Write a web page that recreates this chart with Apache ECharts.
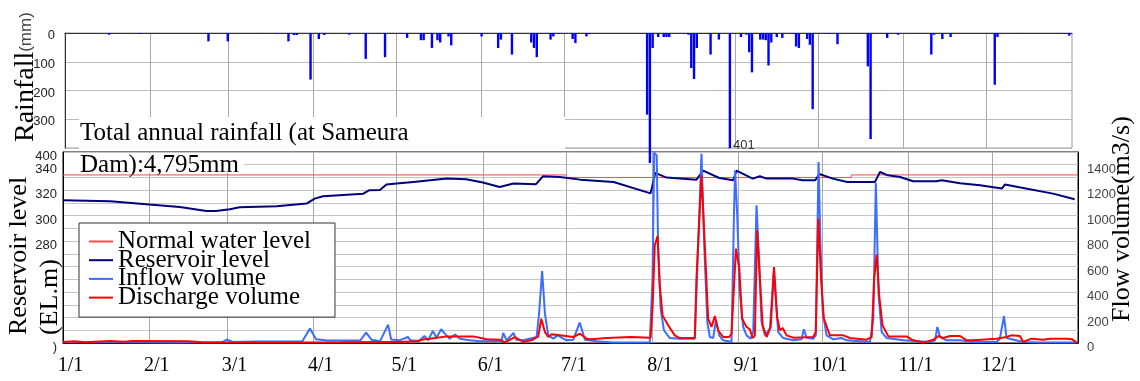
<!DOCTYPE html>
<html>
<head>
<meta charset="utf-8">
<script src="https://cdn.jsdelivr.net/npm/echarts@6/dist/echarts.min.js"></script>
<style>
  html, body { margin: 0; padding: 0; background: #fff; }
  #chart { width: 1140px; height: 381px; }
</style>
</head>
<body>
<div id="chart"></div>
<script>
// Day index (0 = Jan 1) of each month start, and the tick labels shown for them
const monthStarts = [0, 31, 59, 90, 120, 151, 181, 212, 243, 273, 304, 334];
const monthLabels = ['1/1', '2/1', '3/1', '4/1', '5/1', '6/1', '7/1', '8/1', '9/1', '10/1', '11/1', '12/1'];

// Daily rainfall at the dam (mm)
const rainDays = [16, 27, 32, 52, 59, 71, 77, 81, 83, 84, 89, 92, 94, 103, 109, 116, 122, 124, 129, 130,
  133, 135, 136, 139, 140, 151, 157, 158, 162, 169, 170, 171, 176, 177, 179, 184, 185, 189, 190, 211,
  212, 213, 215, 217, 218, 219, 226, 227, 228, 229, 233, 234, 237, 241, 245, 247, 248, 249, 252, 253,
  254, 255, 256, 258, 260, 264, 265, 266, 269, 270, 271, 277, 280, 291, 292, 298, 302, 314, 315, 318,
  321, 337, 338, 345, 362, 364];
const rainMm = [6, 3, 1, 29, 29, 1, 3, 29, 7, 7, 162, 21, 7, 6, 90, 84, 3, 17, 25, 25,
  52, 25, 33, 12, 43, 12, 52, 23, 75, 33, 52, 84, 23, 12, 2, 21, 35, 12, 4, 284,
  452, 52, 14, 14, 14, 14, 6, 122, 160, 52, 3, 75, 23, 401, 14, 6, 67, 137, 23, 23,
  25, 113, 33, 14, 17, 3, 47, 52, 21, 41, 265, 3, 39, 116, 369, 17, 6, 75, 6, 21,
  14, 180, 14, 1, 3, 9];
const rainLabelDay = 241;

// Normal water level (EL.m), lowered during the flood season
const normalDays = [0, 181, 181, 283.5, 283.5, 365];
const normalLevel = [332, 332, 330, 330, 332, 332];

// Reservoir level (EL.m)
const levelDays = [0, 17, 31, 42, 51.6, 55, 60, 63.5, 76.8, 87.6, 90.5, 93.5, 108, 110, 114, 116.3, 120, 126,
  138, 145, 151, 157, 162, 170, 172.6, 178.6, 186, 198, 211.3, 213, 217, 227.8, 230.2, 236, 241, 242.2,
  248, 250.6, 253, 262.5, 266, 270.5, 272, 276.8, 282, 292, 293.8, 296.6, 301, 305.7, 314, 316, 322.6,
  329.8, 337.6, 338.7, 345.3, 356, 363.8];
const levelValues = [312.1, 311.3, 308.7, 306.8, 303.7, 303.7, 305, 306.6, 307.4, 309.5, 313.4, 315.2, 317.3, 319.9, 320.2, 324.4, 325.2, 326.5,
  329.1, 328.6, 326, 322.5, 325.2, 324.6, 330.9, 330.4, 328.3, 326.5, 317.5, 333.6, 329.9, 328.3, 335.4, 329.6, 327.8, 335.4,
  329.1, 330.9, 329.1, 329.1, 327.8, 327.8, 332.7, 329.1, 326.5, 326.5, 334.3, 331.7, 330.4, 327, 327, 327.8, 325.5,
  323.9, 321.3, 324.4, 321.8, 317.3, 312.9];

// Inflow volume (m3/s)
const inflowDays = [0, 20, 40, 57, 59, 61, 70, 86, 88.8, 91, 95, 105, 107, 109, 111, 114, 116.9, 118, 121, 124,
  125, 128, 130, 131.3, 133, 134.3, 136, 137.3, 139, 141, 142.7, 146.3, 150, 157.7, 158.3, 159.5, 162, 163, 165.5, 170.3,
  171.2, 172.3, 173.3, 174.5, 176.3, 178, 179.3, 181, 183.5, 185.8, 187.7, 191.9, 197.8, 211, 212, 212.6, 213.5, 214, 214.9, 216.1,
  218.2, 221.8, 227.2, 228.4, 229.6, 230.6, 231.7, 232.6, 233.8, 234.8, 236, 237.4, 240.4, 241.3, 241.7, 242.4, 243.4, 244.6, 245.8, 247.3,
  248.2, 249.4, 250.4, 251.2, 252.4, 254.2, 255.6, 257.2, 259, 262.6, 265.6, 266.4, 267.4, 269.8, 270.7, 271.7, 272.4, 273.2, 274.6, 277,
  280, 281.8, 290.2, 291.4, 292.3, 293.3, 294.4, 296.2, 302.2, 311.8, 313.6, 314.4, 315.4, 317.8, 322.6, 327.3, 335.7, 336.9, 338.4, 339.3,
  345.3, 351.3, 364.5];
const inflowValues = [5, 5, 3, 5, 27, 8, 12, 12, 113, 29, 20, 20, 22, 82, 25, 13, 144, 27, 21, 47,
  21, 15, 55, 21, 94, 42, 108, 74, 34, 66, 34, 21, 13, 16, 79, 21, 79, 26, 21, 47,
  231, 565, 231, 60, 34, 60, 42, 21, 26, 160, 26, 13, 4, 3, 506, 1495, 1474, 767, 270, 100,
  39, 34, 34, 767, 1487, 767, 165, 47, 39, 178, 60, 21, 8, 1029, 1356, 1029, 400, 126, 60, 34,
  86, 1081, 610, 165, 60, 113, 560, 86, 39, 21, 29, 108, 42, 34, 60, 1421, 767, 243, 60, 29,
  39, 21, 8, 191, 1259, 375, 86, 39, 21, 8, 21, 126, 47, 21, 21, 8, 8, 34, 212, 39,
  8, 3, 3];

// Discharge volume (m3/s)
const dischargeDays = [0, 4, 8, 17, 22, 25, 45, 50, 88, 100, 114, 121, 127, 130, 132, 138, 147.5, 152.3, 157, 158.9,
  162.5, 165.5, 169, 170.9, 172, 173.3, 174.5, 175.7, 178.7, 183.5, 185.9, 188.3, 190, 195.5, 204, 211.3, 212, 212.8, 213.8, 214.6,
  215.6, 217.6, 220, 221.8, 227.2, 227.8, 229.6, 230.8, 232, 233.2, 234.4, 235.6, 237.4, 239.6, 240.4, 241, 242, 243.2, 244.2, 245.8,
  247, 248, 248.8, 249.6, 250.6, 251.6, 253, 254.5, 255.7, 256.8, 257.8, 258.8, 260.2, 262.6, 269.8, 270.7, 271.6, 272.6, 273.6, 275.8,
  280.6, 283, 289, 290.8, 291.7, 292.6, 293.5, 294.7, 296.8, 303.4, 305.2, 309.4, 313, 314.8, 316.5, 319, 322.6, 325, 327.3, 335.7,
  339.3, 341, 344.1, 345.3, 348.3, 352.5, 354.9, 361, 362.8, 364.5];
const dischargeValues = [8, 14, 6, 15, 10, 15, 14, 5, 3, 5, 8, 8, 13, 29, 34, 52, 52, 29, 26, 5,
  47, 8, 26, 52, 191, 86, 47, 68, 60, 47, 73, 34, 30, 39, 47, 42, 270, 767, 840, 453,
  217, 139, 60, 39, 39, 506, 1317, 767, 191, 126, 212, 100, 47, 47, 73, 60, 741, 584, 191, 126,
  108, 39, 60, 885, 506, 139, 47, 126, 597, 200, 100, 118, 60, 42, 47, 86, 977, 506, 191, 60,
  60, 39, 26, 47, 506, 694, 375, 139, 52, 52, 26, 3, 26, 55, 39, 55, 55, 21, 21, 34,
  47, 60, 55, 8, 34, 26, 34, 34, 30, 3];

const pairs = (xs, ys) => xs.map((x, i) => [x, ys[i]]);

const serif = '"Liberation Serif", "Times New Roman", serif';
const sans = '"Liberation Sans", Arial, sans-serif';

const rainData = rainDays.map((d, i) => {
  const item = { value: [d, rainMm[i]] };
  if (d === rainLabelDay) {
    item.label = {
      show: true,
      position: ['100%', '100%'],
      align: 'left',
      verticalAlign: 'bottom',
      offset: [2, 4],
      formatter: p => String(p.value[1]),
      fontFamily: sans,
      fontSize: 13,
      color: '#333'
    };
  }
  return item;
});

const monthName = v => monthLabels[monthStarts.indexOf(v)] || '';

// Value-axis tick text, nudged a little below its grid line
const tickText = (s, style) => (s ? '{' + style + '|' + s + '}' : '');
const tickRich = {
  t: { fontFamily: sans, fontSize: 13, color: '#222', padding: [5, 0, 0, 0] },
  l: { fontFamily: sans, fontSize: 13, color: '#222', padding: [9, 0, 0, 0] },
  r: { fontFamily: sans, fontSize: 13, color: '#444', padding: [9, 0, 0, 0] }
};

const chart = echarts.init(document.getElementById('chart'));

chart.setOption({
  animation: false,
  backgroundColor: '#fff',
  grid: [
    { left: 65, top: 33, width: 1007, height: 115, show: true, borderColor: '#999', borderWidth: 1, backgroundColor: 'transparent' },
    { left: 63, top: 152, width: 1015, height: 191, show: true, borderColor: '#000', borderWidth: 1, backgroundColor: 'transparent' }
  ],
  xAxis: [
    {
      gridIndex: 0, type: 'value', min: 0, max: 365, position: 'top',
      axisLine: { onZero: false, lineStyle: { color: '#333', width: 1 } },
      axisTick: { show: false, customValues: monthStarts },
      axisLabel: { show: false },
      splitLine: { show: true, lineStyle: { color: '#aaa', width: 1 } }
    },
    {
      gridIndex: 1, type: 'value', min: 0, max: 365, position: 'bottom',
      axisLine: { onZero: false, lineStyle: { color: '#000', width: 1 } },
      axisTick: { show: false, customValues: monthStarts },
      axisLabel: {
        customValues: monthStarts,
        formatter: v => '{m|' + monthName(v) + '}',
        margin: 13,
        rich: { m: { fontFamily: serif, fontSize: 20, color: '#000', padding: [0, 0, 0, 15] } }
      },
      splitLine: { show: true, lineStyle: { color: '#a8a8a8', width: 1 } }
    }
  ],
  yAxis: [
    {
      gridIndex: 0, type: 'value', inverse: true, min: 0, max: 400, interval: 100,
      axisLine: { show: true, lineStyle: { color: '#333', width: 1 } },
      axisTick: { show: false },
      axisLabel: {
        formatter: v => tickText(v < 400 ? String(v) : '', 't'),
        rich: tickRich, margin: 10
      },
      splitLine: { show: true, lineStyle: { color: '#bbb', width: 1 } }
    },
    {
      gridIndex: 1, type: 'value', min: 200, max: 350, interval: 10, position: 'left',
      axisLine: { show: true, lineStyle: { color: '#000', width: 1 } },
      axisTick: { show: false },
      axisLabel: {
        formatter: v => {
          if (v === 200) return tickText(')', 'l');
          return [280, 300, 320, 340].includes(v) ? tickText(String(v), 'l') : '';
        },
        rich: tickRich, margin: 6
      },
      splitLine: { show: true, lineStyle: { color: '#c6c6c6', width: 1 } }
    },
    {
      gridIndex: 1, type: 'value', min: 0, max: 1500, interval: 100, position: 'right',
      axisLine: { show: true, lineStyle: { color: '#000', width: 1 } },
      axisTick: { show: false },
      axisLabel: {
        formatter: v => tickText(v % 200 === 0 && v < 1500 ? String(v) : '', 'r'),
        rich: tickRich, margin: 9
      },
      splitLine: { show: false }
    }
  ],
  legend: {
    data: ['Normal water level', 'Reservoir level', 'Inflow volume', 'Discharge volume'],
    orient: 'vertical',
    left: 79, top: 223,
    backgroundColor: '#fff',
    borderColor: '#333', borderWidth: 1,
    padding: [6, 24, 7, 10],
    itemGap: -6.3,
    itemWidth: 24, itemHeight: 2,
    icon: 'rect',
    selectedMode: false,
    textStyle: { fontFamily: serif, fontSize: 25, color: '#000' }
  },
  graphic: [
    { type: 'rect', z: 1, shape: { x: 79, y: 117, width: 486, height: 32 }, style: { fill: '#fff' } },
    { type: 'text', z: 1, x: 80, y: 133,
      style: { text: 'Total annual rainfall (at Sameura', font: '25px ' + serif, fill: '#000', align: 'left', verticalAlign: 'middle' } },
    { type: 'rect', z: 1, shape: { x: 64, y: 153, width: 180, height: 20 }, style: { fill: '#fff' } },
    { type: 'text', z: 1, x: 80, y: 165,
      style: { text: 'Dam):4,795mm', font: '25px ' + serif, fill: '#000', align: 'left', verticalAlign: 'middle' } },
    // top-of-scale tag of the reservoir level axis
    { type: 'text', x: 57, y: 156,
      style: { text: '400', font: '13px ' + sans, fill: '#222', align: 'right', verticalAlign: 'middle' } },
    { type: 'text', x: 26, y: 142, rotation: Math.PI / 2,
      style: {
        text: '{a|Rainfall}{b|(mm)}', align: 'left', verticalAlign: 'middle',
        rich: {
          a: { fontFamily: serif, fontSize: 28, fill: '#000', color: '#000' },
          b: { fontFamily: sans, fontSize: 17, fill: '#444', color: '#444' }
        }
      } },
    { type: 'text', x: 19, y: 335, rotation: Math.PI / 2,
      style: { text: 'Reservoir level', font: '26px ' + serif, fill: '#000', align: 'left', verticalAlign: 'middle' } },
    { type: 'text', x: 50, y: 335, rotation: Math.PI / 2,
      style: { text: '(EL.m)', font: '26px ' + serif, fill: '#000', align: 'left', verticalAlign: 'middle' } },
    { type: 'text', x: 1122, y: 322, rotation: Math.PI / 2,
      style: { text: 'Flow volume(m3/s)', font: '26px ' + serif, fill: '#000', align: 'left', verticalAlign: 'middle' } }
  ],
  series: [
    {
      name: 'Rainfall', type: 'bar', xAxisIndex: 0, yAxisIndex: 0,
      data: rainData, barWidth: 2.4, clip: false,
      itemStyle: { color: '#0000ff' }
    },
    {
      name: 'Normal water level', type: 'line', xAxisIndex: 1, yAxisIndex: 1,
      data: pairs(normalDays, normalLevel), symbol: 'none',
      color: '#ff4a4a', lineStyle: { color: '#ff4a4a', width: 1 }
    },
    {
      name: 'Reservoir level', type: 'line', xAxisIndex: 1, yAxisIndex: 1,
      data: pairs(levelDays, levelValues), symbol: 'none',
      color: '#000080', lineStyle: { color: '#000080', width: 2 }
    },
    {
      name: 'Inflow volume', type: 'line', xAxisIndex: 1, yAxisIndex: 2,
      data: pairs(inflowDays, inflowValues), symbol: 'none',
      color: '#3d6dff', lineStyle: { color: '#3d6dff', width: 2 }
    },
    {
      name: 'Discharge volume', type: 'line', xAxisIndex: 1, yAxisIndex: 2,
      data: pairs(dischargeDays, dischargeValues), symbol: 'none',
      color: '#ff0000', lineStyle: { color: '#ff0000', width: 2 }
    }
  ]
});
</script>
</body>
</html>
